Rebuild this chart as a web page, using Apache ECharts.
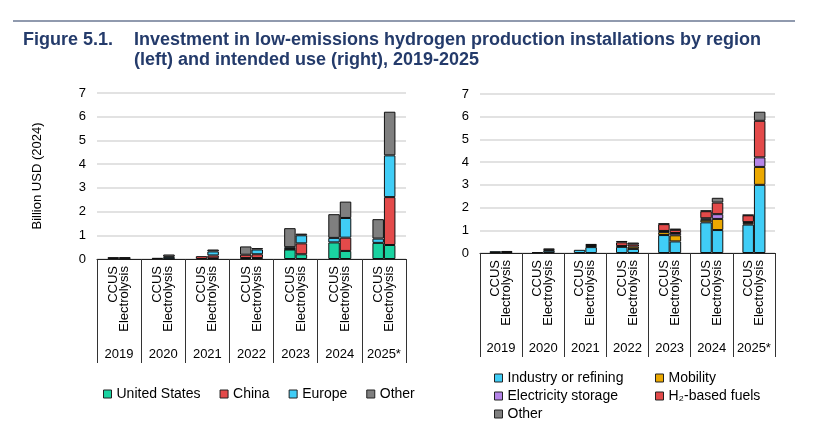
<!DOCTYPE html>
<html>
<head>
<meta charset="utf-8">
<script src="https://cdn.jsdelivr.net/npm/echarts@6/dist/echarts.min.js"></script>
<style>
  html, body { margin: 0; padding: 0; background: #fff; }
  #chart { width: 824px; height: 424px; }
</style>
</head>
<body>
<div id="chart"></div>
<script>
// Years shown along the bottom; each year has a CCUS bar and an Electrolysis bar
const years = ['2019', '2020', '2021', '2022', '2023', '2024', '2025*'];

// Left panel: by region (billion USD 2024)
const usCcus     = [0,    0,    0,    0.04, 0.40, 0.70, 0.68];
const usElec     = [0,    0.01, 0.03, 0.04, 0.20, 0.34, 0.59];
const chinaCcus  = [0,    0,    0.12, 0.14, 0.02, 0,    0];
const chinaElec  = [0,    0,    0.12, 0.16, 0.46, 0.56, 2.02];
const europeCcus = [0,    0,    0,    0,    0.08, 0.19, 0.18];
const europeElec = [0.02, 0.08, 0.17, 0.20, 0.34, 0.83, 1.76];
const otherCcus  = [0.08, 0.05, 0,    0.35, 0.80, 1.00, 0.82];
const otherElec  = [0.06, 0.10, 0.08, 0.06, 0.07, 0.69, 1.84];

// Right panel: by intended use
const industryCcus = [0.08, 0.04, 0.14, 0.27, 0.79, 1.35, 1.25];
const industryElec = [0.04, 0.10, 0.26, 0.18, 0.51, 1.01, 3.00];
const mobilityCcus = [0,    0,    0,    0.04, 0.13, 0.11, 0.06];
const mobilityElec = [0,    0,    0.05, 0.10, 0.27, 0.49, 0.79];
const storageCcus  = [0,    0,    0,    0,    0.05, 0.07, 0.05];
const storageElec  = [0,    0,    0,    0,    0.10, 0.21, 0.42];
const fuelsCcus    = [0,    0,    0,    0.16, 0.30, 0.31, 0.30];
const fuelsElec    = [0,    0.04, 0.04, 0.10, 0.14, 0.51, 1.61];
const useOtherCcus = [0,    0,    0,    0.06, 0.03, 0.03, 0.02];
const useOtherElec = [0.05, 0.06, 0.05, 0.08, 0.05, 0.21, 0.40];

const font = 'Liberation Sans';
const GREEN = '#1ad3a1', RED = '#e34a4a', BLUE = '#40cdf6', GRAY = '#7f7f7f';
const ORANGE = '#eba800', PURPLE = '#b584e8';
const NAVY = '#243b6b';

function bar(name, data, stack, axis, color) {
    return {
        name: name,
        type: 'bar',
        stack: stack,
        xAxisIndex: axis,
        yAxisIndex: axis === 0 ? 0 : 1,
        barWidth: 11.5,
        barGap: '0%',
        data: data.map(v => v || null),
        itemStyle: { color: color, borderColor: '#111', borderWidth: 1 }
    };
}

function typeAxis(grid) {
    return {
        type: 'category', gridIndex: grid, data: years,
        axisLine: { lineStyle: { color: '#222', width: 1 } },
        axisTick: { show: false },
        axisLabel: {
            interval: 0, rotate: 90, margin: 7,
            formatter: () => 'CCUS\nElectrolysis',
            fontFamily: font, fontSize: 13, lineHeight: 11, color: '#000'
        }
    };
}

function yearAxis(grid) {
    return {
        type: 'category', gridIndex: grid, data: years, position: 'bottom',
        axisLine: { show: false },
        axisTick: { show: true, length: 104, lineStyle: { color: '#333' } },
        axisLabel: { interval: 0, margin: 89, fontFamily: font, fontSize: 13, color: '#000' }
    };
}

function valueAxis(grid, extra) {
    return Object.assign({
        type: 'value', gridIndex: grid, min: 0, max: 7, interval: 1,
        axisLine: { show: false },
        axisTick: { show: false },
        splitLine: { lineStyle: { color: '#d9d9d9', width: 1.5 } },
        axisLabel: { fontFamily: font, fontSize: 13, color: '#000', margin: 11 }
    }, extra || {});
}

const legendText = { fontFamily: font, fontSize: 14, color: '#000' };
const legendBase = {
    icon: 'rect', itemWidth: 8, itemHeight: 8, itemGap: 19,
    textStyle: legendText, padding: 0,
    itemStyle: { borderColor: '#222', borderWidth: 1 }
};

let chart = echarts.init(document.getElementById('chart'), null, { renderer: 'canvas' });

let option = {
    animation: false,
    backgroundColor: '#fff',
    title: [
        {
            text: 'Figure 5.1.', left: 23, top: 30, padding: 0,
            textStyle: { fontFamily: font, fontSize: 18, fontWeight: 'bold', color: NAVY, lineHeight: 20 }
        },
        {
            text: 'Investment in low-emissions hydrogen production installations by region\n(left) and intended use (right), 2019-2025',
            left: 134, top: 30, padding: 0,
            textStyle: { fontFamily: font, fontSize: 18, fontWeight: 'bold', color: NAVY, lineHeight: 20 }
        }
    ],
    graphic: [
        { type: 'line', shape: { x1: 13, y1: 21, x2: 795, y2: 21 }, style: { stroke: '#22375e', lineWidth: 1.2 } }
    ],
    legend: [
        Object.assign({}, legendBase, {
            left: 103, top: 387,
            data: ['United States', 'China', 'Europe', 'Other']
        }),
        Object.assign({}, legendBase, {
            left: 494, top: 371, orient: 'vertical', itemGap: 4,
            data: ['Industry or refining', 'Electricity storage', 'Other']
        }),
        Object.assign({}, legendBase, {
            left: 655, top: 371, orient: 'vertical', itemGap: 4,
            data: ['Mobility', 'H₂-based fuels']
        })
    ],
    grid: [
        { left: 97, right: 418, top: 93, bottom: 165 },
        { left: 480, right: 49, top: 94, bottom: 171 }
    ],
    xAxis: [typeAxis(0), yearAxis(0), typeAxis(1), yearAxis(1)],
    yAxis: [
        valueAxis(0, {
            name: 'Billion USD (2024)', nameLocation: 'middle', nameGap: 53,
            nameTextStyle: { fontFamily: font, fontSize: 13, color: '#000' }
        }),
        valueAxis(1)
    ],
    series: [
        bar('United States', usCcus, 'lc', 0, GREEN),
        bar('China', chinaCcus, 'lc', 0, RED),
        bar('Europe', europeCcus, 'lc', 0, BLUE),
        bar('Other', otherCcus, 'lc', 0, GRAY),
        bar('United States', usElec, 'le', 0, GREEN),
        bar('China', chinaElec, 'le', 0, RED),
        bar('Europe', europeElec, 'le', 0, BLUE),
        bar('Other', otherElec, 'le', 0, GRAY),

        bar('Industry or refining', industryCcus, 'rc', 2, BLUE),
        bar('Mobility', mobilityCcus, 'rc', 2, ORANGE),
        bar('Electricity storage', storageCcus, 'rc', 2, PURPLE),
        bar('H₂-based fuels', fuelsCcus, 'rc', 2, RED),
        bar('Other', useOtherCcus, 'rc', 2, GRAY),
        bar('Industry or refining', industryElec, 're', 2, BLUE),
        bar('Mobility', mobilityElec, 're', 2, ORANGE),
        bar('Electricity storage', storageElec, 're', 2, PURPLE),
        bar('H₂-based fuels', fuelsElec, 're', 2, RED),
        bar('Other', useOtherElec, 're', 2, GRAY)
    ]
};

option && chart.setOption(option);
</script>
</body>
</html>
